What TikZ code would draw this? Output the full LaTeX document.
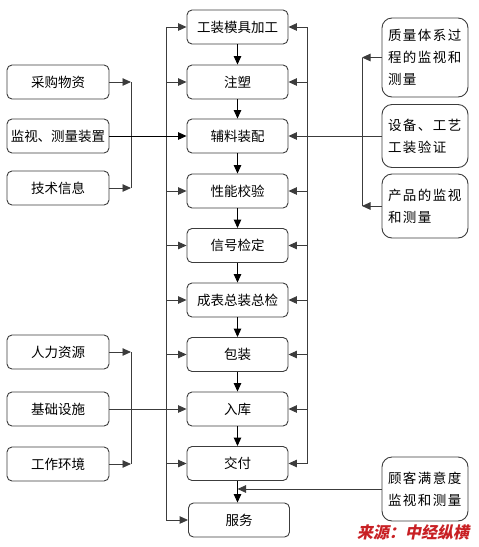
\documentclass[tikz,border=0pt]{standalone}
\usepackage{fontspec}
\setmainfont{Noto Sans CJK SC}
\newfontfamily\srcfont{Noto Sans CJK SC}[FakeSlant=0.2]
\usetikzlibrary{arrows.meta}
\definecolor{srcred}{RGB}{200,32,36}
\definecolor{edge}{RGB}{60,60,60}

\begin{document}
\begin{tikzpicture}[x=1pt,y=-1pt,
    box/.style={draw=edge, line width=0.9pt, rounded corners=5pt,
      minimum width=101pt, minimum height=34pt, inner sep=0pt,
      font=\fontsize{13.5}{16}\selectfont},
    sidebox/.style={draw=edge, line width=0.9pt, rounded corners=10pt,
      minimum width=86pt, inner sep=6pt, text width=74pt, align=left,
      font=\fontsize{13.5}{22}\selectfont\addfontfeature{LetterSpace=11}},
    arr/.style={-{Triangle[length=8.5pt,width=7.5pt]}},
    bus/.style={draw=edge, line width=0.9pt}]
    \useasboundingbox (0,0) rectangle (479,547);

    % main process column
    \foreach \n/\y/\t in {tool/27/工装模具加工, mold/82/注塑, assem/136/辅料装配,
      perf/191/性能校验, signal/245.5/信号检定, final/300/成表总装总检,
      pack/354.5/包装, store/409/入库, deliver/463.5/交付} {
      \node[box] (\n) at (237.5,\y) {\t};
    } ;
    \node[box] (service) at (239,520) {服务};

    \foreach \a/\b in {tool/mold, mold/assem, assem/perf, perf/signal,
      signal/final, final/pack, pack/store, store/deliver} {
      \draw[arr, line width=0.9pt] (\a) -- (\b);
    } ;
    \draw[arr, line width=0.9pt] (deliver.south) -- (deliver.south |- service.north);

    % feedback buses
    \coordinate (lbus) at (166,0);
    \coordinate (rbus) at (307.5,0);
    \draw[bus] (lbus |- tool) -- (lbus |- service);
    \foreach \n in {tool, mold, perf, signal, final, pack, deliver, service} {
      \draw[bus, arr] (lbus |- \n) -- (\n.west);
    } ;
    \draw[bus] (rbus |- tool) -- (rbus |- deliver);
    \foreach \n in {tool, mold, perf, signal, final, pack, store, deliver} {
      \draw[bus, arr] (rbus |- \n) -- (\n.east);
    } ;

    % inputs on the left
    \node[box, minimum width=102pt] (purchase) at (58,82) {采购物资};
    \node[box, minimum width=102pt] (measure) at (58,136) {监视、测量装置};
    \node[box, minimum width=102pt] (tech) at (58,188) {技术信息};
    \node[box, minimum width=102pt] (staff) at (58,352) {人力资源};
    \node[box, minimum width=102pt] (infra) at (58,409) {基础设施};
    \node[box, minimum width=102pt] (envir) at (58,464) {工作环境};

    \coordinate (lj) at (131,0);
    \draw[bus, arr] (purchase) -- (lj |- purchase);
    \draw[bus, arr] (tech) -- (lj |- tech);
    \draw[bus] (lj |- purchase) -- (lj |- tech);
    \draw[arr, line width=0.9pt] (measure) -- (assem);

    \draw[bus, arr] (staff) -- (lj |- staff);
    \draw[bus, arr] (envir) -- (lj |- envir);
    \draw[bus] (lj |- staff) -- (lj |- envir);
    \draw[bus, arr] (infra) -- (store);

    % monitoring on the right
    \node[sidebox, minimum height=79pt] (quality) at (425,57.5) {质量体系过\\程的监视和\\测量};
    \node[sidebox, minimum height=63pt] (equip) at (425,136) {设备、工艺\\工装验证};
    \node[sidebox, minimum height=64pt] (product) at (425,206) {产品的监视\\和测量};
    \node[sidebox, minimum height=64pt] (customer) at (425,489) {顾客满意度\\监视和测量};

    \coordinate (rj) at (362,0);
    \draw[bus, arr] (quality) -- (rj |- quality);
    \draw[bus, arr] (product) -- (rj |- product);
    \draw[bus] (rj |- quality) -- (rj |- product);
    \draw[bus, arr] (equip) -- (assem);

    \coordinate (cj) at (deliver.south |- customer);
    \draw[bus, arr] (customer) -- (cj);

    \node[text=srcred, font=\srcfont\bfseries\fontsize{16}{16}\selectfont]
      (source) at (413,532) {来源：中经纵横};
  \end{tikzpicture}
\end{document}
